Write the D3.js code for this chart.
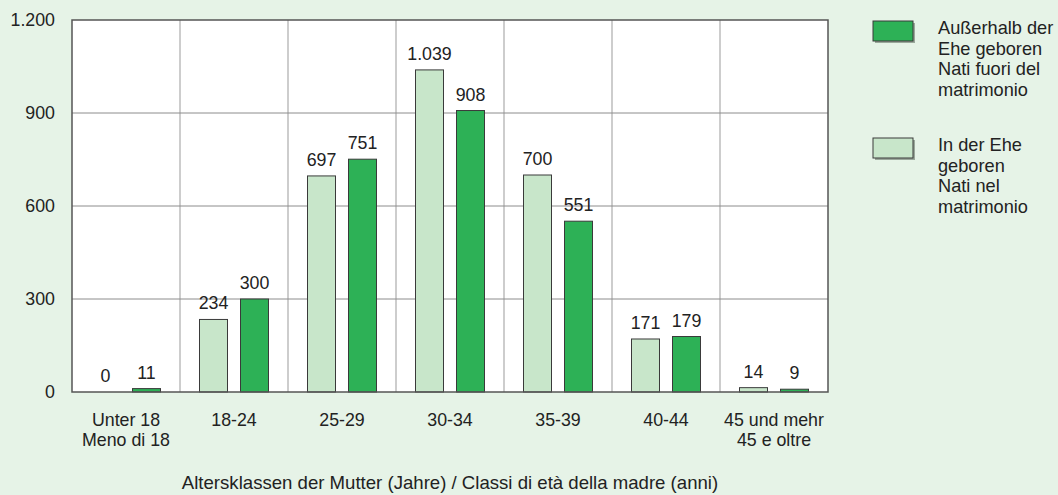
<!DOCTYPE html>
<html>
<head>
<meta charset="utf-8">
<script src="https://cdn.jsdelivr.net/npm/d3@7"></script>
<style>
  body { margin: 0; background: #e6f3e7; }
  svg { display: block; font-family: "Liberation Sans", Arial, sans-serif; }
</style>
</head>
<body>
<svg id="chart" width="1058" height="495"></svg>
<script>
"use strict";

var categories = [["Unter 18", "Meno di 18"], ["18-24"], ["25-29"], ["30-34"], ["35-39"], ["40-44"], ["45 und mehr", "45 e oltre"]];
var inMarriage = [0, 234, 697, 1039, 700, 171, 14];
var outMarriage = [11, 300, 751, 908, 551, 179, 9];
var yTicks = [0, 300, 600, 900, 1200];
var legendOut = ["Außerhalb der", "Ehe geboren", "Nati fuori del", "matrimonio"];
var legendIn = ["In der Ehe", "geboren", "Nati nel", "matrimonio"];
var xTitle = "Altersklassen der Mutter (Jahre) / Classi di età della madre (anni)";

var colorLight = "#c8e6ca";
var colorDark = "#2db156";
var fontSize = 17.8;

var margin = { left: 72, top: 20, right: 230, bottom: 103 };
var width = 1058, height = 495;
var plotW = width - margin.left - margin.right;
var plotH = height - margin.top - margin.bottom;

var fmt = function (v) {
    return d3.format(",")(v).replace(/,/g, ".");
};

var svg = d3.select("#chart");
var g = svg.append("g").attr("transform", "translate(" + margin.left + "," + margin.top + ")");

var x = d3.scaleBand().domain(d3.range(categories.length)).range([0, plotW]);
var y = d3.scaleLinear().domain([0, 1200]).range([plotH, 0]);

g.append("rect").attr("width", plotW).attr("height", plotH).attr("fill", "#fff");

// vertical grid at category boundaries
g.selectAll(".vgrid").data(d3.range(1, categories.length)).enter().append("line")
    .attr("x1", function (d) { return x(d); }).attr("x2", function (d) { return x(d); })
    .attr("y1", 0).attr("y2", plotH)
    .attr("stroke", "#bdbdbd").attr("stroke-width", 1.5);

g.selectAll(".hgrid").data(yTicks.slice(1, -1)).enter().append("line")
    .attr("x1", 0).attr("x2", plotW)
    .attr("y1", function (d) { return y(d); }).attr("y2", function (d) { return y(d); })
    .attr("stroke", "#8c8c8c").attr("stroke-width", 1);

var barW = 28;
var gap = 13;
var series = [
    { values: inMarriage, color: colorLight, offset: -(gap / 2 + barW) },
    { values: outMarriage, color: colorDark, offset: gap / 2 }
];

series.forEach(function (s) {
    var pts = s.values.map(function (v, i) {
        return { value: v, x: x(i) + x.bandwidth() / 2 + s.offset };
    });
    g.selectAll(null).data(pts.filter(function (d) { return d.value > 0; })).enter().append("rect")
        .attr("x", function (d) { return d.x; })
        .attr("y", function (d) { return y(d.value); })
        .attr("width", barW)
        .attr("height", function (d) { return plotH - y(d.value); })
        .attr("fill", s.color)
        .attr("stroke", "#3a3a3a").attr("stroke-width", 1);
    g.selectAll(null).data(pts).enter().append("text")
        .attr("x", function (d) { return d.x + barW / 2; })
        .attr("y", function (d) { return y(d.value) - 10; })
        .attr("text-anchor", "middle")
        .attr("font-size", fontSize).attr("fill", "#222")
        .text(function (d) { return fmt(d.value); });
});

// plot frame
g.append("rect").attr("width", plotW).attr("height", plotH)
    .attr("fill", "none").attr("stroke", "#555").attr("stroke-width", 1.5);

// y axis labels
g.selectAll(".ylab").data(yTicks).enter().append("text")
    .attr("x", -17).attr("y", function (d) { return y(d); })
    .attr("dy", "0.35em").attr("text-anchor", "end")
    .attr("font-size", fontSize).attr("fill", "#222")
    .text(function (d) { return fmt(d); });

// category labels
var catText = g.selectAll(".cat").data(categories).enter().append("text")
    .attr("text-anchor", "middle").attr("font-size", fontSize).attr("fill", "#222")
    .attr("transform", function (d, i) { return "translate(" + (x(i) + x.bandwidth() / 2) + "," + (plotH + 34) + ")"; });
catText.selectAll("tspan").data(function (d) { return d; }).enter().append("tspan")
    .attr("x", 0).attr("y", function (d, i) { return i * 20; })
    .text(function (d) { return d; });

svg.append("text")
    .attr("x", 450).attr("y", 489)
    .attr("text-anchor", "middle").attr("font-size", 18.6).attr("fill", "#222")
    .text(xTitle);

// legend
var legend = [
    { lines: legendOut, color: colorDark, top: 21 },
    { lines: legendIn, color: colorLight, top: 138 }
];
legend.forEach(function (l) {
    svg.append("rect").attr("x", 875).attr("y", l.top + 2).attr("width", 40).attr("height", 20)
        .attr("fill", "#9aa89b");
    svg.append("rect").attr("x", 873).attr("y", l.top).attr("width", 40).attr("height", 20)
        .attr("fill", l.color).attr("stroke", "#3a3a3a").attr("stroke-width", 1);
    var t = svg.append("text").attr("font-size", 18.2).attr("fill", "#222");
    t.selectAll("tspan").data(l.lines).enter().append("tspan")
        .attr("x", 938).attr("y", function (d, i) { return l.top + 13 + i * 20.5; })
        .text(function (d) { return d; });
});
</script>
</body>
</html>
